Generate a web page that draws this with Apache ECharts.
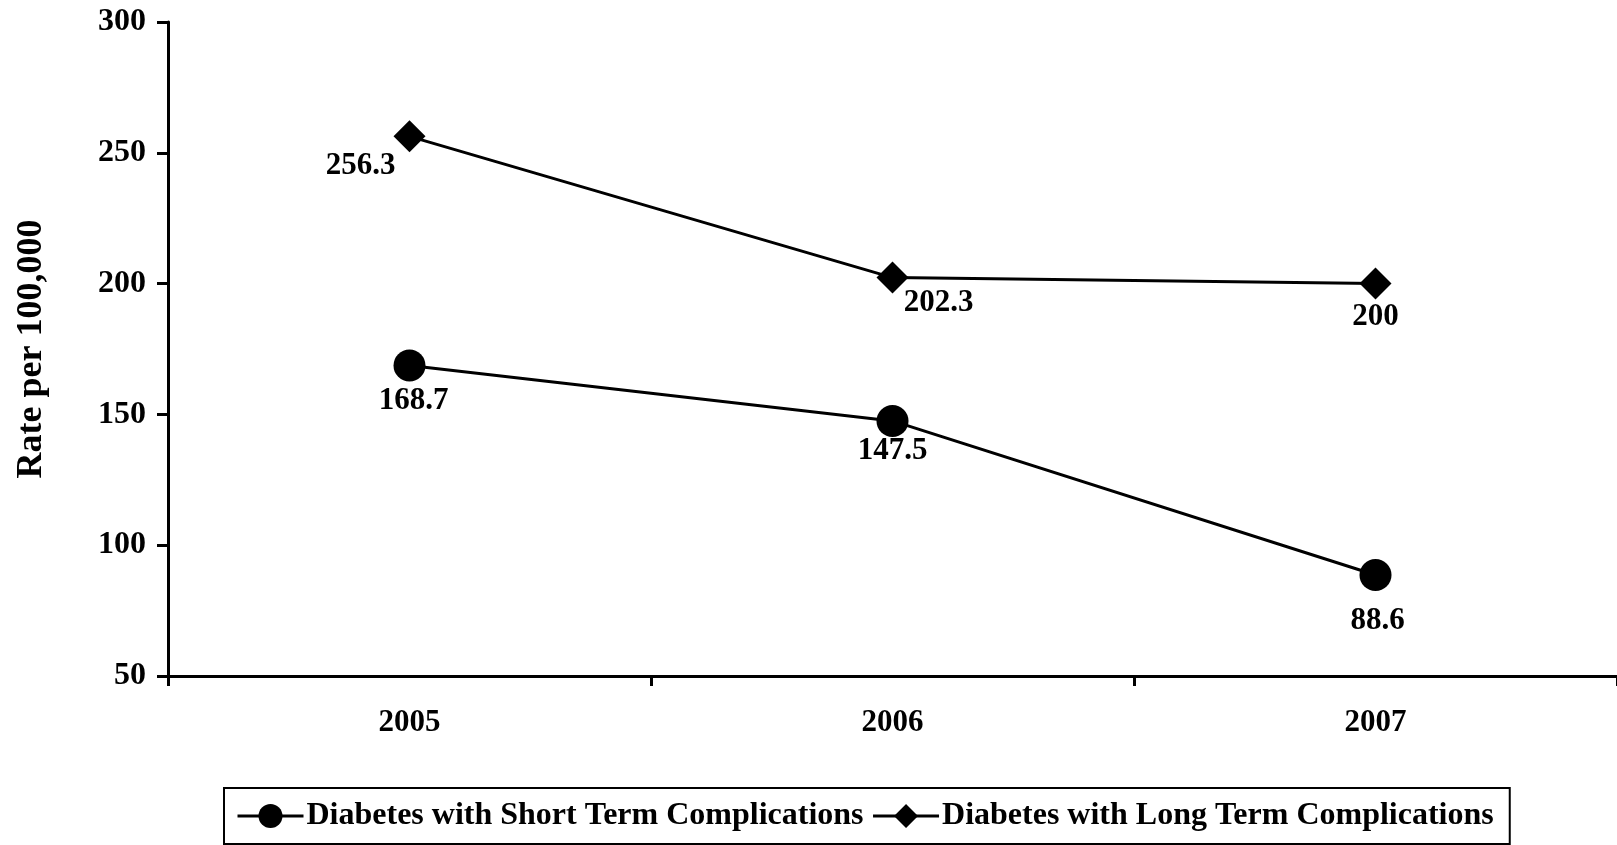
<!DOCTYPE html>
<html><head><meta charset="utf-8">
<script src="https://cdn.jsdelivr.net/npm/echarts@6/dist/echarts.min.js"></script>
<style>html,body{margin:0;padding:0;background:#fff}#c{width:1617px;height:845px}</style>
</head><body><div id="c"></div>
<script>
const categories = ['2005', '2006', '2007'];
const shortTerm = [168.7, 147.5, 88.6];
const longTerm = [256.3, 202.3, 200];
const yTicks = { min: 50, max: 300, interval: 50 };
const seriesNames = ['Diabetes with Short Term Complications', 'Diabetes with Long Term Complications'];

const FONT = '"Liberation Serif", "Times New Roman", serif';
const shortOffsets = [[4, 36], [0, 30], [2, 46]];
const longOffsets = [[-49, 30], [46, 25], [0, 33]];

function mk(vals, offs) {
  return vals.map((v, i) => ({ value: v, label: { offset: offs[i] } }));
}

const chart = echarts.init(document.getElementById('c'), null, { renderer: 'canvas' });
chart.setOption({
  backgroundColor: '#fff',
  animation: false,
  textStyle: { fontFamily: FONT },
  grid: { left: 168, right: 0, top: 22, bottom: 169, containLabel: false },
  legend: {
    left: 224, top: 788,
    padding: [12, 16, 12, 12],
    borderColor: '#000', borderWidth: 2,
    itemWidth: 66, itemHeight: 30, itemGap: 8,
    lineStyle: { width: 3, color: '#000' },
    textStyle: { fontFamily: FONT, fontWeight: 'bold', fontSize: 32, color: '#000', padding: [0, 0, 0, -2] },
    data: seriesNames
  },
  xAxis: {
    type: 'category', data: categories, boundaryGap: true,
    axisLine: { lineStyle: { color: '#000', width: 3 } },
    axisTick: { show: true, length: 10, lineStyle: { color: '#000', width: 3 } },
    axisLabel: { color: '#000', fontFamily: FONT, fontWeight: 'bold', fontSize: 31, margin: 31 },
    splitLine: { show: false }
  },
  yAxis: {
    type: 'value', min: yTicks.min, max: yTicks.max, interval: yTicks.interval,
    name: 'Rate per 100,000', nameLocation: 'middle', nameRotate: 90, nameGap: 118,
    nameTextStyle: { color: '#000', fontFamily: FONT, fontWeight: 'bold', fontSize: 36 },
    axisLine: { show: true, lineStyle: { color: '#000', width: 3 } },
    axisTick: { show: true, length: 11, lineStyle: { color: '#000', width: 3 } },
    axisLabel: { color: '#000', fontFamily: FONT, fontWeight: 'bold', fontSize: 32, margin: 22 },
    splitLine: { show: false }
  },
  series: [
    {
      name: seriesNames[0], type: 'line', data: mk(shortTerm, shortOffsets),
      symbol: 'circle', symbolSize: 32,
      lineStyle: { color: '#000', width: 3 }, itemStyle: { color: '#000' },
      label: { show: true, position: 'inside', color: '#000', fontFamily: FONT, fontWeight: 'bold', fontSize: 31 }
    },
    {
      name: seriesNames[1], type: 'line', data: mk(longTerm, longOffsets),
      symbol: 'diamond', symbolSize: [32, 32],
      lineStyle: { color: '#000', width: 3 }, itemStyle: { color: '#000' },
      label: { show: true, position: 'inside', color: '#000', fontFamily: FONT, fontWeight: 'bold', fontSize: 31 }
    }
  ]
});
</script></body></html>
